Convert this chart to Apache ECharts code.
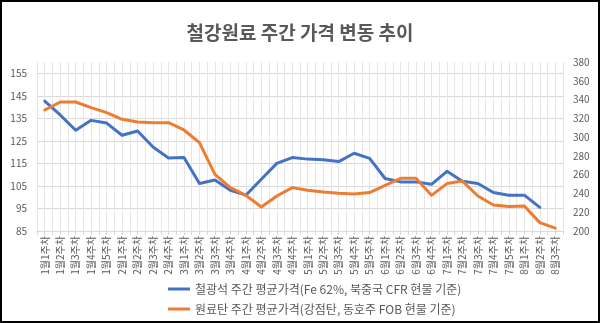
<!DOCTYPE html>
<html><head><meta charset="utf-8">
<script src="https://cdn.jsdelivr.net/npm/echarts@6/dist/echarts.min.js"></script>
<style>
html,body{margin:0;padding:0;background:#fff;}
#wrap{width:600px;height:323px;box-sizing:border-box;border:2px solid #000;overflow:hidden;}
#c{width:596px;height:319px;}
</style></head>
<body><div id="wrap"><div id="c"></div></div>
<script>
const title = '철강원료 주간 가격 변동 추이';
const categories = [
 '1월1주차','1월2주차','1월3주차','1월4주차','1월5주차',
 '2월1주차','2월2주차','2월3주차','2월4주차',
 '3월1주차','3월2주차','3월3주차','3월4주차',
 '4월1주차','4월2주차','4월3주차','4월4주차',
 '5월1주차','5월2주차','5월3주차','5월4주차','5월5주차',
 '6월1주차','6월2주차','6월3주차','6월4주차',
 '7월1주차','7월2주차','7월3주차','7월4주차','7월5주차',
 '8월1주차','8월2주차','8월3주차'
];
const ironName = '철광석 주간 평균가격(Fe 62%, 북중국 CFR 현물 기준)';
const coalName = '원료탄 주간 평균가격(강점탄, 동호주 FOB 현물 기준)';
const ironOre = [142.6,136.5,129.7,134.1,132.9,127.5,129.4,122.3,117.4,117.6,106.1,107.6,103.1,100.9,108.0,115.0,117.6,
 116.9,116.6,115.8,119.5,117.2,108.3,106.8,106.8,105.7,111.5,107.1,106.1,102.1,100.9,100.9,95.5,null];
const cokingCoal = [328.9,337.4,337.4,331.4,326.1,319.0,316.1,315.4,315.4,307.6,294.1,260.4,246.2,238.0,225.6,237.3,246.2,
 243.3,241.5,240.1,239.4,240.9,248.7,256.1,256.1,238.0,250.5,253.2,237.3,227.7,226.0,226.6,208.9,203.0];
const leftTicks = {min:85, max:160, interval:10};
const rightTicks = {min:200, max:380, interval:20};

const halfSlots = [];
categories.forEach(()=>{halfSlots.push('');halfSlots.push('');});

const txt = '#595959';
const font = '"Noto Sans CJK KR", "Noto Sans", sans-serif';
const chart = echarts.init(document.getElementById('c'));
chart.setOption({
  animation:false,
  textStyle:{fontFamily:font},
  title:{text:title,left:'center',top:16,textStyle:{fontSize:19,fontWeight:'bold',color:txt,fontFamily:font}},
  grid:{left:35,right:35,top:60,bottom:90},
  legend:{orient:'vertical',left:161,top:276,itemGap:8,itemWidth:22,itemHeight:3,icon:'rect',
    textStyle:{fontSize:12,color:txt,fontFamily:font},data:[ironName,coalName]},
  xAxis:[{
    type:'category',data:categories,boundaryGap:true,
    axisLine:{lineStyle:{color:'#d9d9d9'}},axisTick:{show:false},
    axisLabel:{rotate:90,interval:0,fontSize:10,color:txt,margin:5},
    splitLine:{show:false}
  },{
    type:'category',data:halfSlots,boundaryGap:true,position:'bottom',
    axisLine:{show:false},axisLabel:{show:false},
    axisTick:{show:true,interval:0,length:4,lineStyle:{color:'#d9d9d9'}},
    splitLine:{show:true,interval:0,lineStyle:{color:'#e6e6e6',width:1}}
  }],
  yAxis:[{
    type:'value',min:leftTicks.min,max:leftTicks.max,interval:leftTicks.interval,
    axisLine:{show:false},axisTick:{show:false},
    axisLabel:{fontSize:10,color:txt,margin:10,showMaxLabel:false},
    splitLine:{show:true,showMaxLine:false,lineStyle:{color:'#d9d9d9'}}
  },{
    type:'value',min:rightTicks.min,max:rightTicks.max,interval:rightTicks.interval,position:'right',
    axisLine:{show:false},axisTick:{show:false},
    axisLabel:{fontSize:10,color:txt,margin:10},
    splitLine:{show:false}
  }],
  series:[
    {name:ironName,type:'line',xAxisIndex:0,yAxisIndex:0,data:ironOre,symbol:'none',
      lineStyle:{width:3,color:'#4472C4',join:'round',cap:'round'},itemStyle:{color:'#4472C4'}},
    {name:coalName,type:'line',xAxisIndex:0,yAxisIndex:1,data:cokingCoal,symbol:'none',
      lineStyle:{width:3,color:'#ED7D31',join:'round',cap:'round'},itemStyle:{color:'#ED7D31'}}
  ]
});
</script></body></html>
